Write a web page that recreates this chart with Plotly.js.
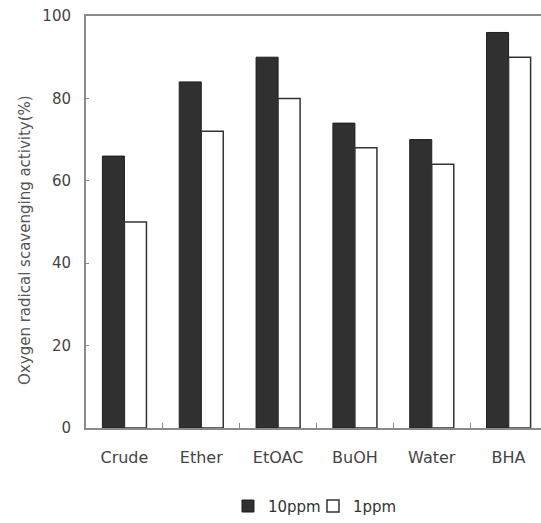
<!DOCTYPE html>
<html>
<head>
<meta charset="utf-8">
<script src="https://cdn.plot.ly/plotly-3.0.1.min.js"></script>
<style>
  html, body { margin: 0; padding: 0; background: #fff; overflow: hidden; }
  #chart { width: 547px; height: 523px; }
</style>
</head>
<body>
<div id="chart"></div>
<script>
// Extract fractions and the BHA reference
const categories = ["Crude", "Ether", "EtOAC", "BuOH", "Water", "BHA"];
// Scavenging activity (%) at each concentration
const activity10ppm = [66, 84, 90, 74, 70, 96];
const activity1ppm = [50, 72, 80, 68, 64, 90];
const yTicks = [0, 20, 40, 60, 80, 100];

const textColor = "#444";
const axisColor = "#8a8a8a";
const font = "DejaVu Sans, Arial, sans-serif";

const traces = [
  {
    type: "bar",
    name: "10ppm",
    x: categories,
    y: activity10ppm,
    marker: { color: "#303030", line: { color: "#1e1e1e", width: 1 } }
  },
  {
    type: "bar",
    name: "1ppm",
    x: categories,
    y: activity1ppm,
    marker: { color: "#ffffff", line: { color: "#333", width: 1.5 } }
  }
];

const layout = {
  width: 547,
  height: 523,
  margin: { l: 86, r: 0, t: 16, b: 93 },
  paper_bgcolor: "#fff",
  plot_bgcolor: "#fff",
  barmode: "group",
  bargap: 0.427,
  bargroupgap: 0,
  font: { family: font, color: textColor, size: 15 },
  showlegend: true,
  legend: {
    orientation: "h",
    x: 0.308, xanchor: "left",
    y: -0.19, yanchor: "middle",
    font: { size: 15, color: "#333" },
    itemwidth: 30,
    entrywidth: 40,
    entrywidthmode: "pixels",
    traceorder: "normal"
  },
  xaxis: {
    type: "category",
    showline: true,
    linecolor: axisColor,
    linewidth: 2,
    mirror: true,
    ticks: "inside",
    tickson: "boundaries",
    ticklen: 5,
    tickcolor: axisColor,
    ticklabelstandoff: 14,
    tickfont: { size: 16, color: textColor },
    showgrid: false,
    zeroline: false
  },
  yaxis: {
    range: [0, 100],
    tickvals: yTicks,
    ticktext: yTicks.map(String),
    showline: true,
    linecolor: axisColor,
    linewidth: 2,
    mirror: true,
    ticks: "inside",
    ticklen: 3,
    tickcolor: axisColor,
    ticklabelstandoff: 10,
    tickfont: { size: 15, color: textColor },
    showgrid: false,
    zeroline: false
  },
  annotations: [
    {
      // vertical axis caption, sitting a little below the axis midpoint
      text: "Oxygen radical scavenging activity(%)",
      xref: "paper", yref: "paper",
      x: -0.1323, y: 0.4565,
      xanchor: "center", yanchor: "middle",
      textangle: -90,
      showarrow: false,
      font: { size: 15, color: "#555" }
    }
  ]
};

Plotly.newPlot("chart", traces, layout, { displayModeBar: false, staticPlot: true });
</script>
</body>
</html>
